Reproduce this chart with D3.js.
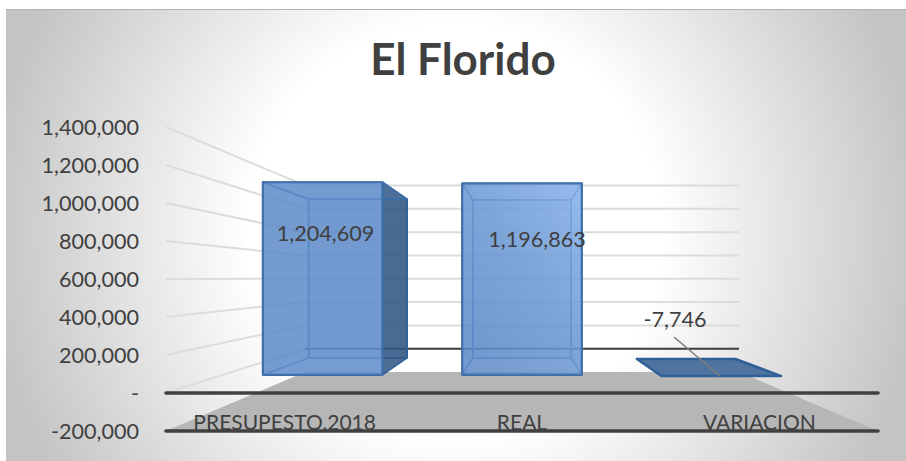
<!DOCTYPE html>
<html><head><meta charset="utf-8">
<script src="https://cdn.jsdelivr.net/npm/d3@7"></script>
<style>html,body{margin:0;padding:0;background:#fff;overflow:hidden}svg{display:block}
text{font-family:Lato,"Open Sans",sans-serif;fill:#404040}</style></head><body>
<svg id="c" width="906" height="461"></svg>
<script>
const categories = ["PRESUPESTO.2018", "REAL", "VARIACION"];
const values = [1204609, 1196863, -7746];
const labels = ["1,204,609", "1,196,863", "-7,746"];
const tickValues = [-200000, 0, 200000, 400000, 600000, 800000, 1000000, 1200000, 1400000];
const title = "El Florido";

const svg = d3.select("#c");
const defs = svg.append("defs");
const bg = defs.append("radialGradient").attr("id","bg").attr("gradientUnits","userSpaceOnUse")
  .attr("cx",455).attr("cy",232).attr("r",470);
[[0,"#ffffff"],[0.44,"#ffffff"],[1,"#c4c4c4"]].forEach(s=>bg.append("stop").attr("offset",s[0]).attr("stop-color",s[1]));
const g2 = defs.append("linearGradient").attr("id","bar2").attr("x1","100%").attr("y1","0%").attr("x2","20%").attr("y2","100%");
[[0,"#88b2ea"],[0.5,"#6d9ad4"],[1,"#5f8cc8"]].forEach(s=>g2.append("stop").attr("offset",s[0]).attr("stop-color",s[1]));

svg.append("rect").attr("x",6).attr("y",9).attr("width",900).attr("height",452).attr("fill","url(#bg)");
svg.append("line").attr("x1",6).attr("x2",906).attr("y1",9.5).attr("y2",9.5).attr("stroke","#b4b4b4");

// depth t: 0 = front plane of the 3D box, 1 = back wall
const yFront = d3.scaleLinear().domain([-200000,1400000]).range([431,127]);
const yBack  = d3.scaleLinear().domain([-200000,1400000]).range([372,185.5]);
const xLeft  = d3.scaleLinear().domain([0,1]).range([166,305]);
const xRight = d3.scaleLinear().domain([0,1]).range([878,739]);
const band = d3.scaleBand().domain(categories).range([0,1]).paddingInner(0).paddingOuter(0);
const px = (u,t)=> d3.scaleLinear().domain([0,1]).range([xLeft(t),xRight(t)])(u);
const py = (v,t)=> d3.interpolateNumber(yFront(v),yBack(v))(t);
const P = (u,v,t)=>[px(u,t),py(v,t)];
const line = pts=>"M"+pts.map(p=>p.join(",")).join("L")+"Z";

// floor
const floorV = -200000;
svg.append("path").attr("d",line([P(0,floorV,0),P(1,floorV,0),P(1,floorV,1),P(0,floorV,1)])).attr("fill","#b6b6b6");

// walls' gridlines
const walls = tickValues.filter(v=>v>=0);
svg.append("g").selectAll("path").data(walls).join("path")
  .attr("d",v=>`M${xLeft(0)},${yFront(v)}L${xLeft(1)},${yBack(v)}L${xRight(1)},${yBack(v)}`)
  .attr("fill","none").attr("stroke","#dcdcdc").attr("stroke-width",2);
svg.append("line").attr("x1",xLeft(1)).attr("x2",xRight(1)).attr("y1",yBack(0)).attr("y2",yBack(0))
  .attr("stroke","#404040").attr("stroke-width",2);

// axis labels
const axis = d3.axisLeft(yFront).tickValues(tickValues).tickSize(0).tickPadding(0)
  .tickFormat(v=>v===0?"-":d3.format(",")(v).replace("\u2212","-"));
const ay = svg.append("g").attr("transform","translate(139,0)").call(axis);
ay.select(".domain").remove();
ay.selectAll("text").style("font-size","21.6px").attr("dy","0.36em");

// category labels (cut by the lower axis line)
const xcat = d3.scaleBand().domain(categories).range([xLeft(0),xRight(0)]);
const ax = svg.append("g").attr("transform","translate(0,415)").call(d3.axisBottom(xcat).tickSize(0).tickPadding(0));
ax.select(".domain").remove();
ax.selectAll("text").style("font-size","21px").attr("dy","0.71em").attr("y",0);

// bars
const tF = 0.41, tB = 0.79, w = 0.6;
categories.forEach((c,i)=>{
  const bw = band.bandwidth()*w;
  const u0 = band(c)+band.bandwidth()*(1-w)/2, u1 = u0+bw;
  const v = values[i];
  const flat = v<0;
  const g = svg.append("g").attr("stroke-linejoin","round");
  const face = (pts,fill,op,stroke,sw)=>g.append("path").attr("d",line(pts)).attr("fill",fill).attr("fill-opacity",op)
     .attr("stroke",stroke).attr("stroke-width",sw);
  const a=(u,vv,t)=>P(u,vv,t);
  if(flat){
    face([a(u0,v,tB),a(u1,v,tB),a(u1,v,tF),a(u0,v,tF)],"#4f749f",1,"#2f5f98",2.5);
    return;
  }
  const edge="#3f72b0";
  face([a(u0,0,tB),a(u1,0,tB),a(u1,v,tB),a(u0,v,tB)],"#5b8bc8",0.2,edge,1.5);
  face([a(u0,0,tB),a(u0,0,tF),a(u0,v,tF),a(u0,v,tB)],"#5b8bc8",0.1,edge,1.5);
  const right=[a(u1,0,tB),a(u1,0,tF),a(u1,v,tF),a(u1,v,tB)];
  const rightOut = px(u1,tB)>px(u1,tF);
  face(right,rightOut?"#2f5480":"#5b8bc8",rightOut?0.85:0.1,rightOut?"#2f5f98":edge,1.5);
  face([a(u0,v,tB),a(u1,v,tB),a(u1,v,tF),a(u0,v,tF)],"#5b8bc8",0.1,edge,1.5);
  face([a(u0,0,tF),a(u1,0,tF),a(u1,v,tF),a(u0,v,tF)],i===1?"url(#bar2)":"#5f8dc9",0.86,"#3f70aa",2.2);
});

// front axis lines
svg.append("g").selectAll("line").data([0,-200000]).join("line")
  .attr("x1",xLeft(0)).attr("x2",xRight(0)).attr("y1",v=>yFront(v)).attr("y2",v=>yFront(v))
  .attr("stroke","#404040").attr("stroke-width",3.6).attr("stroke-linecap","round");

// data labels
const labelPos = [[325.5,233],[537,239],[675,319]];
svg.append("g").selectAll("text").data(labels).join("text")
  .attr("x",(d,i)=>labelPos[i][0]).attr("y",(d,i)=>labelPos[i][1]).attr("dy","0.36em")
  .attr("text-anchor","middle").style("font-size","21.6px").text(d=>d);
svg.append("line").attr("x1",674).attr("y1",337).attr("x2",720).attr("y2",376).attr("stroke","#7f7f7f").attr("stroke-width",1.6);

svg.append("text").attr("x",463).attr("y",75).attr("text-anchor","middle")
  .style("font-size","44px").style("font-weight","700").text(title);
</script></body></html>
